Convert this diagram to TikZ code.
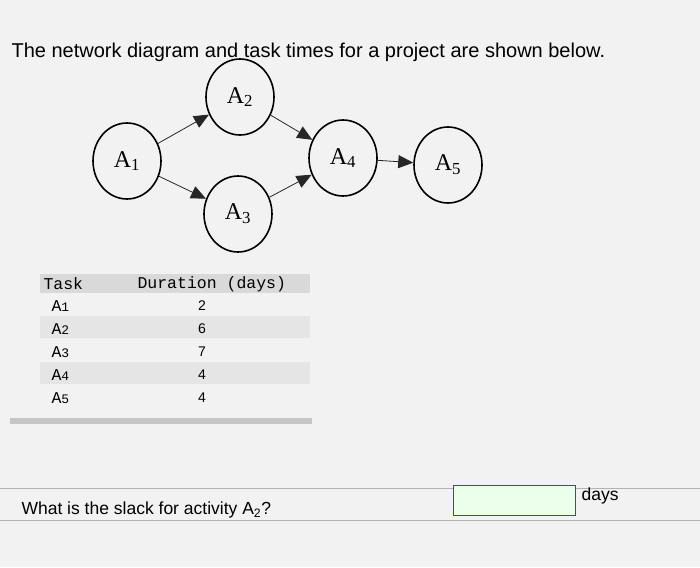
\documentclass[tikz,border=0pt]{standalone}
\usepackage{fontspec}
\setmainfont{Liberation Sans}
\newfontfamily\ser{Liberation Serif}
\newfontfamily\mono{Liberation Mono}
\usetikzlibrary{arrows.meta,shapes.geometric}
\begin{document}
\begin{tikzpicture}[x=1pt,y=-1pt,
  act/.style={draw,line width=1.6pt,ellipse,minimum width=68pt,minimum height=76pt,font=\ser\fontsize{24}{24}\selectfont},
  con/.style={draw=black!85,line width=0.8pt,-{Triangle[length=15pt,width=13pt]}},
  mt/.style={font=\mono\fontsize{16.5}{16.5}\selectfont,anchor=west},
  nt/.style={font=\fontsize{14}{14}\selectfont}]
\useasboundingbox (0,0) rectangle (700,567);
\fill[gray!10] (0,0) rectangle (700,567);
\node[anchor=west,font=\fontsize{20}{22}\selectfont] (title) at (8,52) {The network diagram and task times for a project are shown below.};
\node[act] (a1) at (127,161) {A\textsubscript{1}};
\node[act] (a2) at (240,97) {A\textsubscript{2}};
\node[act] (a3) at (238,214) {A\textsubscript{3}};
\node[act] (a4) at (343,158) {A\textsubscript{4}};
\node[act] (a5) at (448,165) {A\textsubscript{5}};
\draw[con] (a1) -- (a2);
\draw[con] (a1) -- (a3);
\draw[con] (a2) -- (a4);
\draw[con] (a3) -- (a4);
\draw[con] (a4) -- (a5);
% table
\fill[gray!30] (40,274) rectangle (310,293);
\fill[gray!20] (40,316) rectangle (310,338);
\fill[gray!20] (40,362) rectangle (310,384);
\node[mt] (th1) at (40,284) {Task};
\node[mt] (th2) at (134,284) {Duration (days)};
\foreach \n/\d/\y in {1/2/306,2/6/329,3/7/352,4/4/375,5/4/398}{
  \node[mt] (t\n) at (48,\y) {A\fontsize{13}{13}\selectfont\n};
  \node[nt] (d\n) at (202,\y) {\d};
}
\fill[gray!45] (10,418) rectangle (312,424);
% question
\draw[gray!60] (0,488) -- (700,488);
\draw[gray!60] (0,520) -- (700,520);
\node[anchor=west,font=\fontsize{17.5}{17.5}\selectfont] (q) at (18,510) {What is the slack for activity A\textsubscript{2}?};
\node[draw=blue!50!gray,thick,fill=green!8,minimum width=122pt,minimum height=30pt] (box) at (514,500) {};
\node[anchor=west,font=\fontsize{17.5}{17.5}\selectfont] (days) at (578,496) {days};
\end{tikzpicture}
\end{document}
